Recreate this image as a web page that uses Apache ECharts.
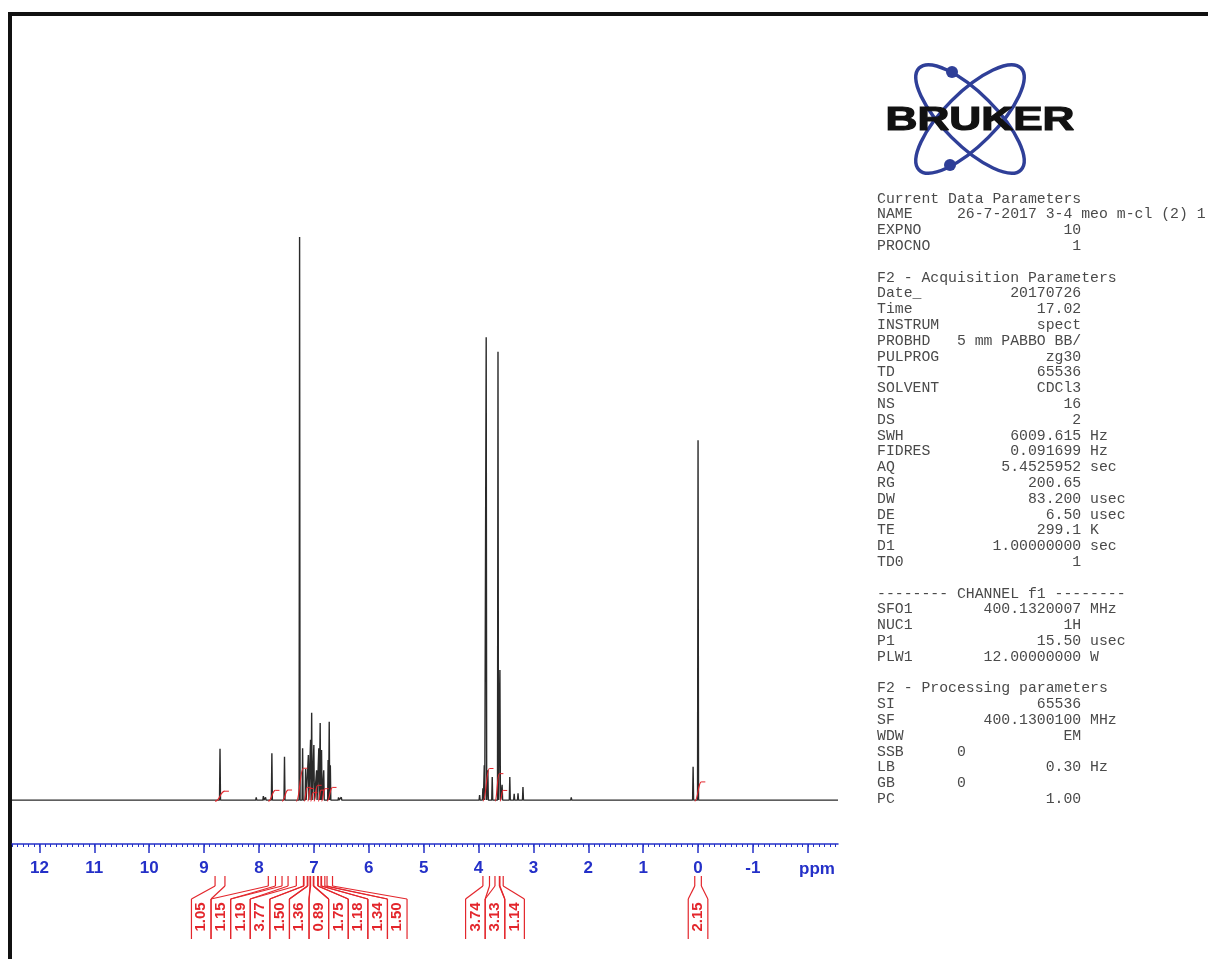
<!DOCTYPE html>
<html><head><meta charset="utf-8">
<script src="https://cdn.jsdelivr.net/npm/echarts@6/dist/echarts.min.js"></script>
<style>html,body{margin:0;padding:0;background:#fff;}#c{width:1208px;height:959px;}</style>
</head><body><div id="c"></div>
<script>
// ---- data ----
const peakPpm = [8.71, 8.05, 7.92, 7.88, 7.765, 7.535, 7.26, 7.205, 7.15, 7.10, 7.06, 7.04, 7.00, 6.95, 6.91, 6.885, 6.86, 6.82, 6.74, 6.72, 6.70, 6.55, 6.50,
  3.98, 3.92, 3.895, 3.86, 3.83, 3.75, 3.645, 3.61, 3.57, 3.43, 3.35, 3.28, 3.19, 2.31, 0.09, 0.0];
const peakHeight = [9.1, 0.5, 0.7, 0.5, 8.3, 7.7, 100, 9.2, 5.5, 8.0, 10.7, 15.5, 9.8, 5.3, 9.2, 13.7, 8.9, 5.3, 7.1, 13.9, 6.2, 0.5, 0.5,
  0.9, 2.1, 6.2, 82.2, 5.3, 4.1, 79.6, 23.1, 2.7, 4.1, 1.1, 1.2, 2.3, 0.5, 5.9, 63.9];
const integralFrom  = [8.80, 7.83, 7.58, 7.32, 7.18, 7.11, 7.06, 7.00, 6.92, 6.86, 6.76, 3.92, 3.70, 3.61, 0.06];
const integralTo    = [8.62, 7.70, 7.47, 7.19, 7.12, 7.07, 7.01, 6.93, 6.87, 6.80, 6.66, 3.80, 3.62, 3.55, -0.06];
const integralValue = ['1.05','1.15','1.19','3.77','1.50','1.36','0.89','1.75','1.18','1.34','1.50','3.74','3.13','1.14','2.15'];
const tickLabels = [12, 11, 10, 9, 8, 7, 6, 5, 4, 3, 2, 1, 0, -1];
const majorTicks = [12, 11, 10, 9, 8, 7, 6, 5, 4, 3, 2, 1, 0, -1, -2];
const paramHeaders = ['Current Data Parameters', 'F2 - Acquisition Parameters', '-------- CHANNEL f1 --------', 'F2 - Processing parameters'];
const paramBlock1 = [['NAME', '26-7-2017 3-4 meo m-cl (2) 1', '', 'left'], ['EXPNO', '10', ''], ['PROCNO', '1', '']];
const paramBlock2 = [['Date_', '20170726', ''], ['Time', '17.02', ''], ['INSTRUM', 'spect', ''], ['PROBHD', '5 mm PABBO BB/', ''],
  ['PULPROG', 'zg30', ''], ['TD', '65536', ''], ['SOLVENT', 'CDCl3', ''], ['NS', '16', ''], ['DS', '2', ''],
  ['SWH', '6009.615', 'Hz'], ['FIDRES', '0.091699', 'Hz'], ['AQ', '5.4525952', 'sec'], ['RG', '200.65', ''],
  ['DW', '83.200', 'usec'], ['DE', '6.50', 'usec'], ['TE', '299.1', 'K'], ['D1', '1.00000000', 'sec'], ['TD0', '1', '']];
const paramBlock3 = [['SFO1', '400.1320007', 'MHz'], ['NUC1', '1H', ''], ['P1', '15.50', 'usec'], ['PLW1', '12.00000000', 'W']];
const paramBlock4 = [['SI', '65536', ''], ['SF', '400.1300100', 'MHz'], ['WDW', 'EM', ''], ['SSB', '0', '', 'left'],
  ['LB', '0.30', 'Hz'], ['GB', '0', '', 'left'], ['PC', '1.00', '']];

// ---- settings ----
const X_MIN = -2.55, X_MAX = 12.5, Y_MIN = -7.8, Y_MAX = 110;
const BLUE = '#2430c8', RED = '#e3262c';
const INT_SCALE = 1.5;

function fmtLine(r) {
  const name = r[0], val = r[1], unit = r[2];
  if (r[3] === 'left') return name.padEnd(9) + val;
  return name.padEnd(23 - val.length) + val + (unit ? ' ' + unit : '');
}
const paramText = [paramHeaders[0]].concat(paramBlock1.map(fmtLine), [''], [paramHeaders[1]], paramBlock2.map(fmtLine),
  [''], [paramHeaders[2]], paramBlock3.map(fmtLine), [''], [paramHeaders[3]], paramBlock4.map(fmtLine)).join('\n');

const minorTicks = [];
for (let k = -25; k <= 125; k++) minorTicks.push(k / 10);

const W = 0.009;
const order = peakPpm.map((p, i) => i).sort((a, b) => peakPpm[b] - peakPpm[a]);
const spec = [[X_MAX, 0]];
order.forEach(i => { spec.push([peakPpm[i] + W, 0], [peakPpm[i], peakHeight[i]], [peakPpm[i] - W, 0]); });
spec.push([X_MIN, 0]);

function layoutLabels(centers, gap) {
  let clusters = centers.map((c, i) => ({ start: c, desired: [c] }));
  let changed = true;
  while (changed) {
    changed = false;
    for (let k = 0; k < clusters.length - 1; k++) {
      const a = clusters[k], b = clusters[k + 1];
      if (a.start + a.desired.length * gap > b.start) {
        const desired = a.desired.concat(b.desired);
        let s = 0; desired.forEach((d, i) => { s += d - i * gap; });
        clusters.splice(k, 2, { start: s / desired.length, desired });
        changed = true; break;
      }
    }
  }
  const out = [];
  clusters.forEach(c => c.desired.forEach((d, i) => out.push(c.start + i * gap)));
  return out;
}

const chart = echarts.init(document.getElementById('c'), null, { renderer: 'canvas' });
chart.setOption({
  animation: false,
  backgroundColor: '#fff',
  grid: { left: 12, right: 370, top: 180.7, bottom: 115, containLabel: false },
  xAxis: [{
    type: 'value', min: X_MIN, max: X_MAX, inverse: true, position: 'bottom',
    axisLine: { show: true, onZero: false, lineStyle: { color: BLUE, width: 1.5 } },
    axisTick: { show: true, customValues: majorTicks, length: 9, lineStyle: { color: BLUE, width: 1.5 } },
    axisLabel: { show: true, customValues: tickLabels, color: BLUE, fontWeight: 'bold', fontSize: 17, fontFamily: 'Liberation Sans', margin: 16 },
    splitLine: { show: false }
  }, {
    type: 'value', min: X_MIN, max: X_MAX, inverse: true, position: 'bottom', gridIndex: 0,
    axisLine: { show: false, onZero: false },
    axisTick: { show: true, customValues: minorTicks, length: 3, lineStyle: { color: BLUE, width: 1 } },
    axisLabel: { show: false }, splitLine: { show: false }
  }],
  yAxis: { type: 'value', min: Y_MIN, max: Y_MAX, show: false, splitLine: { show: false } },
  series: [{
    type: 'line', data: spec, xAxisIndex: 0, showSymbol: false, symbol: 'none',
    lineStyle: { color: '#2a2a2a', width: 1.4 }, z: 2
  }, {
    type: 'custom', xAxisIndex: 0, z: 3,
    data: integralFrom.map((f, i) => [f, integralTo[i], i]),
    encode: { x: [0, 1] },
    renderItem: function (params, api) {
      const i = params.dataIndex;
      const centers = integralFrom.map((f, k) => (api.coord([f, 0])[0] + api.coord([integralTo[k], 0])[0]) / 2);
      const lx = layoutLabels(centers, 19.6)[i];
      const x1 = api.coord([integralFrom[i], 0])[0], x2 = api.coord([integralTo[i], 0])[0];
      const base = api.coord([0, 0])[1];
      const axisY = api.coord([0, Y_MIN])[1];
      const h = api.size([0, parseFloat(integralValue[i]) * INT_SCALE])[1];
      const y0 = axisY + 32, y1 = axisY + 42, y2 = axisY + 55, y3 = axisY + 95;
      const half = 9.8;
      const ls = { stroke: RED, lineWidth: 1.2 };
      const xm = (x1 + x2) / 2;
      return {
        type: 'group', children: [
          { type: 'line', shape: { x1: x1, y1: y0, x2: x1, y2: y1 }, style: ls },
          { type: 'line', shape: { x1: x2, y1: y0, x2: x2, y2: y1 }, style: ls },
          { type: 'line', shape: { x1: x1, y1: y1, x2: lx - half, y2: y2 }, style: ls },
          { type: 'line', shape: { x1: x2, y1: y1, x2: lx + half, y2: y2 }, style: ls },
          { type: 'line', shape: { x1: lx - half, y1: y2, x2: lx - half, y2: y3 }, style: ls },
          { type: 'line', shape: { x1: lx + half, y1: y2, x2: lx + half, y2: y3 }, style: ls },
          { type: 'text', x: lx, y: axisY + 73, rotation: Math.PI / 2,
            style: { text: integralValue[i], fill: RED, font: 'bold 15px "Liberation Sans"', align: 'center', verticalAlign: 'middle' } },
          { type: 'bezierCurve', shape: { x1: x1, y1: base + 1, cpx1: xm, cpy1: base + 1, cpx2: xm, cpy2: base - h, x2: x2, y2: base - h },
            style: { stroke: RED, lineWidth: 1.2, fill: 'none' } },
          { type: 'line', shape: { x1: x2, y1: base - h, x2: x2 + 4, y2: base - h }, style: { stroke: RED, lineWidth: 1 } }
        ]
      };
    }
  }],
  graphic: [
    { type: 'rect', shape: { x: 10, y: 14, width: 1400, height: 1200 }, style: { fill: 'none', stroke: '#111', lineWidth: 4 }, silent: true },
    { type: 'text', x: 817, y: 869, style: { text: 'ppm', fill: BLUE, font: 'bold 17px "Liberation Sans"', align: 'center', verticalAlign: 'middle' } },
    { type: 'ellipse', x: 970, y: 119, rotation: -Math.PI / 4, shape: { cx: 0, cy: 0, rx: 72, ry: 26 }, style: { fill: 'none', stroke: '#2f3f98', lineWidth: 3.5 } },
    { type: 'ellipse', x: 970, y: 119, rotation: Math.PI / 4, shape: { cx: 0, cy: 0, rx: 72, ry: 26 }, style: { fill: 'none', stroke: '#2f3f98', lineWidth: 3.5 } },
    { type: 'circle', shape: { cx: 952, cy: 72, r: 6 }, style: { fill: '#2f3f98' } },
    { type: 'circle', shape: { cx: 950, cy: 165, r: 6 }, style: { fill: '#2f3f98' } },
    { type: 'text', x: 980, y: 121, scaleX: 1.3, style: { text: 'BRUKER', fill: '#111', stroke: '#111', lineWidth: 1.2, font: 'bold 34px "Liberation Sans"', align: 'center', verticalAlign: 'middle' } },
    { type: 'text', x: 877, y: 190.7, style: { text: paramText, fill: '#4a4a4a', font: '14.8px "Liberation Mono"', lineHeight: 15.8, align: 'left', verticalAlign: 'top' } }
  ]
});
</script></body></html>
